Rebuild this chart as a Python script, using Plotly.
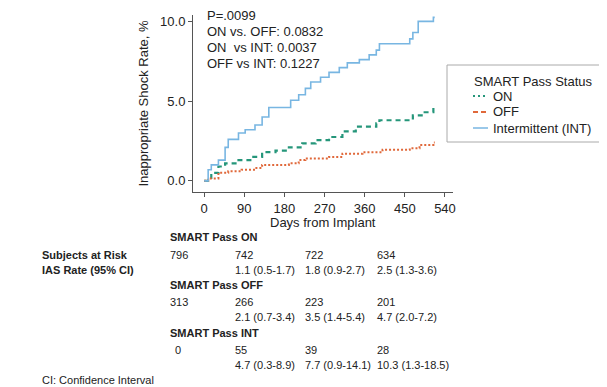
import plotly.graph_objects as go

# Kaplan-Meier style cumulative inappropriate shock rate (%)
int_days = [0, 9, 16, 32, 47, 54, 77, 92, 114, 130, 145, 194, 212, 227, 239, 261, 280, 303, 321, 348, 370, 386, 393, 461, 468, 480, 514, 517]
int_rate = [0, 0.7, 1.0, 1.3, 2.1, 2.6, 3.0, 3.2, 3.5, 4.0, 4.6, 5.05, 5.4, 5.8, 6.2, 6.5, 6.8, 7.1, 7.4, 7.6, 7.9, 8.2, 8.6, 8.9, 9.3, 10.0, 10.25, 10.25]

on_days = [0, 16, 32, 47, 77, 107, 130, 160, 190, 220, 250, 280, 310, 340, 386, 393, 468, 491, 514, 517]
on_rate = [0, 0.5, 0.9, 1.1, 1.3, 1.5, 1.8, 1.9, 2.1, 2.35, 2.55, 2.75, 3.1, 3.4, 3.6, 3.8, 4.1, 4.3, 4.6, 4.6]

off_days = [0, 9, 32, 54, 84, 114, 130, 190, 212, 227, 280, 310, 355, 400, 461, 483, 514, 517]
off_rate = [0, 0.15, 0.5, 0.6, 0.7, 0.8, 1.0, 1.1, 1.3, 1.4, 1.5, 1.7, 1.8, 1.95, 2.05, 2.25, 2.4, 2.4]

x_ticks = [0, 90, 180, 270, 360, 450, 540]
y_ticks = [0, 5, 10]

p_lines = ["P=.0099", "ON vs. OFF: 0.0832", "ON  vs INT: 0.0037", "OFF vs INT: 0.1227"]

legend_title = "SMART Pass Status"
legend_names = ["ON", "OFF", "Intermittent (INT)"]

groups = ["SMART Pass ON", "SMART Pass OFF", "SMART Pass INT"]
at_risk = [["796", "742", "722", "634"], ["313", "266", "223", "201"], ["0", "55", "39", "28"]]
ias_rate = [["1.1 (0.5-1.7)", "1.8 (0.9-2.7)", "2.5 (1.3-3.6)"],
            ["2.1 (0.7-3.4)", "3.5 (1.4-5.4)", "4.7 (2.0-7.2)"],
            ["4.7 (0.3-8.9)", "7.7 (0.9-14.1)", "10.3 (1.3-18.5)"]]

FONT = "Liberation Sans, Arial, sans-serif"
TXT = "#222222"
GREEN, ORANGE, BLUE = "#25967a", "#e0683a", "#78b6e2"

fig = go.Figure()
fig.add_trace(go.Scatter(x=on_days, y=on_rate, mode="lines", line_shape="hv", name=legend_names[0],
                         line=dict(color=GREEN, width=2.2, dash="5px,4px")))
fig.add_trace(go.Scatter(x=off_days, y=off_rate, mode="lines", line_shape="hv", name=legend_names[1],
                         line=dict(color=ORANGE, width=2, dash="2px,2px")))
fig.add_trace(go.Scatter(x=int_days, y=int_rate, mode="lines", line_shape="hv", name=legend_names[2],
                         line=dict(color=BLUE, width=1.6)))

# page body margin offset (the figure div sits 8px in from the window corner)
OFS = 8
W, H = 607 - OFS, 387 - OFS
L, R, T, B = 193 - OFS, 154, 15 - OFS, 195
pw, ph = W - L - R, H - T - B

def px(x):
    return (x - OFS - L) / pw

def py(y):
    return (H - B - (y - OFS)) / ph

ann = []
for i, s in enumerate(p_lines):
    ann.append(dict(x=px(205), y=py(16 + i * 15.8), xref="paper", yref="paper", text=s,
                    showarrow=False, xanchor="left", yanchor="middle", font=dict(size=13, color=TXT)))

ann.append(dict(x=px(323), y=py(222), xref="paper", yref="paper", text="Days from Implant",
                showarrow=False, xanchor="center", yanchor="middle", font=dict(size=13, color=TXT)))

col_x = [168, 233, 303, 375]
rows_y = [(237, 255, 270), (285, 302, 317), (333, 350, 365)]
for g, (yh, yr, yc) in enumerate(rows_y):
    ann.append(dict(x=px(168), y=py(yh), xref="paper", yref="paper", text="<b>" + groups[g] + "</b>",
                    showarrow=False, xanchor="left", yanchor="middle", font=dict(size=11, color=TXT)))
    for j, v in enumerate(at_risk[g]):
        xx = col_x[j] + (5 if (g == 2 and j == 0) else 0)
        ann.append(dict(x=px(xx), y=py(yr), xref="paper", yref="paper", text=v,
                        showarrow=False, xanchor="left", yanchor="middle", font=dict(size=11, color=TXT)))
    for j, v in enumerate(ias_rate[g]):
        ann.append(dict(x=px(col_x[j + 1]), y=py(yc), xref="paper", yref="paper", text=v,
                        showarrow=False, xanchor="left", yanchor="middle", font=dict(size=11, color=TXT)))

ann.append(dict(x=px(40), y=py(255), xref="paper", yref="paper", text="<b>Subjects at Risk</b>",
                showarrow=False, xanchor="left", yanchor="middle", font=dict(size=11, color=TXT)))
ann.append(dict(x=px(40), y=py(270), xref="paper", yref="paper", text="<b>IAS Rate (95% CI)</b>",
                showarrow=False, xanchor="left", yanchor="middle", font=dict(size=11, color=TXT)))
ann.append(dict(x=px(40), y=py(380), xref="paper", yref="paper", text="CI: Confidence Interval",
                showarrow=False, xanchor="left", yanchor="middle", font=dict(size=11, color=TXT)))

# legend box drawn in paper coordinates
shapes = [dict(type="rect", xref="paper", yref="paper", x0=px(447), x1=px(606), y0=py(142), y1=py(65),
               line=dict(color="#aaaaaa", width=1), fillcolor="white", layer="above")]
ann.append(dict(x=px(472), y=py(81), xref="paper", yref="paper", text=legend_title,
                showarrow=False, xanchor="left", yanchor="middle", font=dict(size=13, color=TXT)))
leg_styles = [(GREEN, "2px,3px", 1.8), (ORANGE, "5px,3px", 1.8), (BLUE, "solid", 1.5)]
for i, (name, (c, d, w)) in enumerate(zip(legend_names, leg_styles)):
    yy = 96 + i * 16
    shapes.append(dict(type="line", xref="paper", yref="paper", x0=px(473), x1=px(488), y0=py(yy), y1=py(yy),
                       line=dict(color=c, width=w, dash=d), layer="above"))
    ann.append(dict(x=px(491), y=py(yy), xref="paper", yref="paper", text=name,
                    showarrow=False, xanchor="left", yanchor="middle", font=dict(size=13, color=TXT)))

fig.update_layout(
    width=W, height=H,
    margin=dict(l=L, r=R, t=T, b=B, autoexpand=False),
    paper_bgcolor="white", plot_bgcolor="white",
    font=dict(family=FONT, size=13, color=TXT),
    showlegend=False,
    xaxis=dict(range=[-25, 558], tickvals=x_ticks, showgrid=False, zeroline=False,
               showline=True, linecolor="#555555", linewidth=1, ticks="outside", ticklen=4,
               tickcolor="#555555", tickfont=dict(size=13, color=TXT)),
    yaxis=dict(range=[-0.7, 10.4], tickvals=y_ticks, tickformat=".1f", showgrid=False, zeroline=False,
               showline=True, linecolor="#555555", linewidth=1, ticks="outside", ticklen=4,
               tickcolor="#555555", tickfont=dict(size=13, color=TXT),
               title=dict(text="Inappropriate Shock Rate, %", font=dict(size=13), standoff=8)),
    shapes=shapes,
    annotations=ann,
)

fig.write_html("out.html")
